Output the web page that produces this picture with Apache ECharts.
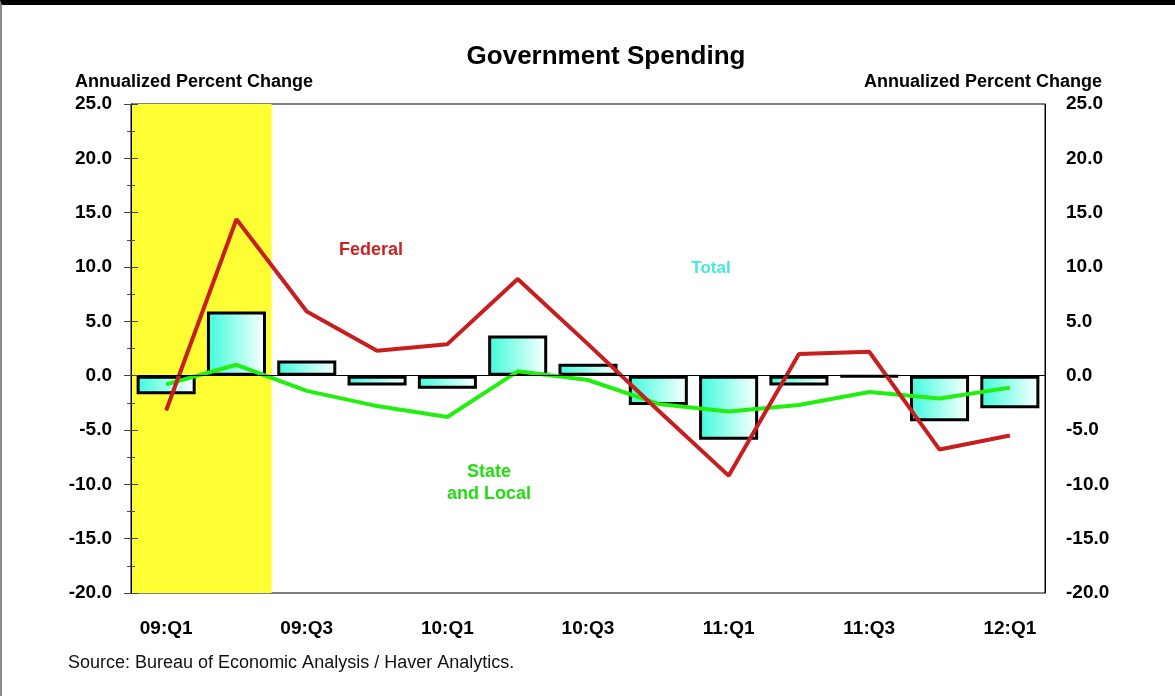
<!DOCTYPE html>
<html>
<head>
<meta charset="utf-8">
<title>Government Spending</title>
<script src="https://cdn.jsdelivr.net/npm/echarts@6/dist/echarts.min.js"></script>
<style>
  html, body { margin: 0; padding: 0; background: #fff; }
  #frame { position: relative; width: 1175px; height: 696px; box-sizing: border-box;
           border-top: 5px solid #000; border-left: 2px solid #888; }
  #chart { position: absolute; left: -2px; top: -5px; width: 1175px; height: 696px; }
</style>
</head>
<body>
<div id="frame"><div id="chart"></div></div>
<script>
// Quarterly annualized percent change in real government spending
const quarters = ['09:Q1', '09:Q2', '09:Q3', '09:Q4', '10:Q1', '10:Q2', '10:Q3',
                  '10:Q4', '11:Q1', '11:Q2', '11:Q3', '11:Q4', '12:Q1'];
const total = [-1.7, 5.9, 1.4, -0.9, -1.2, 3.7, 1.1, -2.7, -5.9, -0.9, -0.1, -4.2, -3.0];
const federal = [-3.2, 14.4, 5.9, 2.3, 2.9, 8.9, 2.9, -3.2, -9.2, 2.0, 2.2, -6.8, -5.5];
const stateLocal = [-0.8, 1.0, -1.4, -2.8, -3.8, 0.4, -0.4, -2.6, -3.3, -2.7, -1.5, -2.1, -1.1];
// Shaded recession quarters
const recession = ['09:Q1', '09:Q2'];
const yTicks = { min: -20, max: 25, step: 5 };

const FONT = '"Liberation Sans", Arial, Helvetica, sans-serif';
const chart = echarts.init(document.getElementById('chart'), null, { renderer: 'canvas' });

const recStart = quarters.indexOf(recession[0]);
const recEnd = quarters.indexOf(recession[recession.length - 1]) + 1;

const fmt = v => v.toFixed(1);

const valueAxisBase = {
  type: 'value', min: yTicks.min, max: yTicks.max, interval: yTicks.step,
  splitLine: { show: false }
};

chart.setOption({
  animation: false,
  textStyle: { fontFamily: FONT },
  grid: { left: 131, right: 130, top: 104, bottom: 103, show: true,
          borderColor: '#000', borderWidth: 1, backgroundColor: 'transparent' },
  xAxis: [
    {
      type: 'category', data: quarters, boundaryGap: true, z: 10,
      axisLine: { lineStyle: { color: '#000', width: 1 } },
      axisTick: { interval: 0, alignWithLabel: true, length: 7, lineStyle: { color: '#555' } },
      axisLabel: { interval: 1, margin: 26, color: '#000', fontWeight: 'bold', fontSize: 19, fontFamily: FONT }
    },
    { type: 'value', min: 0, max: quarters.length, show: false }
  ],
  yAxis: [
    Object.assign({}, valueAxisBase, {
      position: 'left', z: 10,
      axisLine: { show: true, lineStyle: { color: '#000', width: 1 } },
      axisTick: { show: true, length: 7, lineStyle: { color: '#444' } },
      minorTick: { show: true, splitNumber: 2, length: 4, lineStyle: { color: '#444' } },
      axisLabel: { formatter: fmt, margin: 19, color: '#000', fontWeight: 'bold', fontSize: 19, fontFamily: FONT }
    }),
    Object.assign({}, valueAxisBase, {
      position: 'right',
      axisLine: { show: true, lineStyle: { color: '#000', width: 1 } },
      axisTick: { show: false },
      axisLabel: { formatter: fmt, margin: 21, color: '#000', fontWeight: 'bold', fontSize: 19, fontFamily: FONT }
    }),
    Object.assign({}, valueAxisBase, {
      position: 'left', z: 10,
      axisLine: { show: false },
      axisTick: { show: true, inside: true, length: 7, lineStyle: { color: '#444' } },
      minorTick: { show: true, splitNumber: 2, length: 4, lineStyle: { color: '#444' } },
      axisLabel: { show: false }
    })
  ],
  series: [
    {
      name: 'Recession', type: 'line', xAxisIndex: 1, yAxisIndex: 0, data: [],
      silent: true, z: 0,
      markArea: {
        silent: true,
        itemStyle: { color: '#ffff33' },
        data: [[{ xAxis: recStart, yAxis: yTicks.max }, { xAxis: recEnd, yAxis: yTicks.min }]]
      }
    },
    {
      name: 'Total', type: 'bar', data: total, barWidth: '84%', z: 2,
      itemStyle: {
        color: new echarts.graphic.LinearGradient(0, 0, 1, 0, [
          { offset: 0, color: '#3dfcdc' }, { offset: 1, color: '#ffffff' }
        ]),
        borderColor: '#000', borderWidth: 3
      },
      markLine: {
        silent: true, symbol: 'none', label: { show: false },
        lineStyle: { color: '#000', width: 1, type: 'solid' },
        data: [{ yAxis: 0 }]
      }
    },
    {
      name: 'Federal', type: 'line', data: federal, showSymbol: false, z: 4,
      lineStyle: { color: '#c81e1e', width: 4 }
    },
    {
      name: 'State and Local', type: 'line', data: stateLocal, showSymbol: false, z: 3,
      lineStyle: { color: '#22ee10', width: 4 }
    }
  ],
  graphic: [
    { type: 'text', x: 606, y: 57,
      style: { text: 'Government Spending', font: 'bold 26px ' + FONT, fill: '#000',
               textAlign: 'center', textVerticalAlign: 'middle' } },
    { type: 'text', x: 75, y: 82,
      style: { text: 'Annualized Percent Change', font: 'bold 18px ' + FONT, fill: '#000',
               textAlign: 'left', textVerticalAlign: 'middle' } },
    { type: 'text', x: 1102, y: 82,
      style: { text: 'Annualized Percent Change', font: 'bold 18px ' + FONT, fill: '#000',
               textAlign: 'right', textVerticalAlign: 'middle' } },
    { type: 'text', x: 371, y: 250,
      style: { text: 'Federal', font: 'bold 18px ' + FONT, fill: '#cc2222',
               textAlign: 'center', textVerticalAlign: 'middle' } },
    { type: 'text', x: 711, y: 268,
      style: { text: 'Total', font: 'bold 17px ' + FONT, fill: '#44e8d8',
               textAlign: 'center', textVerticalAlign: 'middle' } },
    { type: 'text', x: 489, y: 483,
      style: { text: 'State\nand Local', font: 'bold 18px ' + FONT, fill: '#22dd10',
               textAlign: 'center', textVerticalAlign: 'middle', lineHeight: 22 } },
    { type: 'text', x: 68, y: 663,
      style: { text: 'Source: Bureau of Economic Analysis / Haver Analytics.', font: '18px ' + FONT,
               fill: '#111', textAlign: 'left', textVerticalAlign: 'middle' } }
  ]
});
</script>
</body>
</html>
